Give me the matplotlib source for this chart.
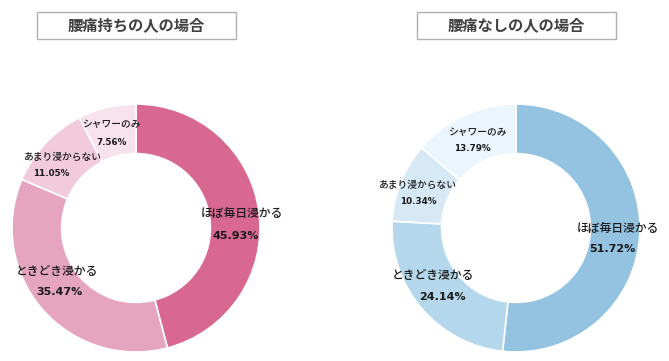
import matplotlib
matplotlib.use("Agg")
import matplotlib.pyplot as plt
from matplotlib.patches import Rectangle

plt.rcParams['font.family'] = ['Noto Sans CJK JP', 'DejaVu Sans']

categories = ["ほぼ毎日浸かる", "ときどき浸かる", "あまり浸からない", "シャワーのみ"]
titles = ["腰痛持ちの人の場合", "腰痛なしの人の場合"]
values_pain = [45.93, 35.47, 11.05, 7.56]
values_nopain = [51.72, 24.14, 10.34, 13.79]
colors_pain = ["#d86890", "#e5a5bf", "#f1cadb", "#f8e3ec"]
colors_nopain = ["#94c3e1", "#b4d7eb", "#d6e9f5", "#ebf5fb"]

W, H = 669, 361
fig = plt.figure(figsize=(W / 100, H / 100), dpi=100)
ax = fig.add_axes([0, 0, 1, 1])

R = 124
# label offsets (in units of radius) for name and percent per slice
offsets = [
    {"name": [(0.85, 0.12), (-0.64, -0.35), (-0.60, 0.57), (-0.20, 0.84)],
     "pct": [(0.80, -0.065), (-0.62, -0.52), (-0.68, 0.44), (-0.20, 0.69)]},
    {"name": [(0.82, 0.0), (-0.67, -0.38), (-0.80, 0.35), (-0.31, 0.77)],
     "pct": [(0.78, -0.17), (-0.59, -0.56), (-0.79, 0.21), (-0.35, 0.64)]},
]
big = [True, True, False, False]

centers = [(136, -228), (516, -228)]
for idx, (vals, cols) in enumerate([(values_pain, colors_pain), (values_nopain, colors_nopain)]):
    cx, cy = centers[idx]
    ax.pie(vals, colors=cols, startangle=90, counterclock=False, radius=R,
           center=(cx, cy), wedgeprops=dict(width=R * 0.4, edgecolor='white', linewidth=1.2),
           frame=True)
    for i, (cat, v) in enumerate(zip(categories, vals)):
        nx, ny = offsets[idx]["name"][i]
        px, py = offsets[idx]["pct"][i]
        fs_n = 8.5 if big[i] else 7
        fs_p = 8 if big[i] else 6.3
        ax.text(cx + nx * R, cy + ny * R, cat, ha='center', va='center',
                fontsize=fs_n, color='#1a1a1a', fontweight='medium')
        ax.text(cx + px * R, cy + py * R, f"{v:.2f}%", ha='center', va='center',
                fontsize=fs_p, color='#1a1a1a', fontweight='bold',
                family=['DejaVu Sans'])
    # title box
    bx = cx - 99.5
    ax.add_patch(Rectangle((bx, -39), 199, 27, facecolor='white', edgecolor='#b0b0b0', linewidth=1))
    ax.text(cx + 0.5, -25.5, titles[idx], ha='center', va='center', fontsize=11,
            fontweight='bold', color='#404040')

ax.axis('off')
ax.set_xlim(0, W)
ax.set_ylim(-H, 0)
ax.set_aspect('auto')
fig.savefig("out.png", dpi=100)
